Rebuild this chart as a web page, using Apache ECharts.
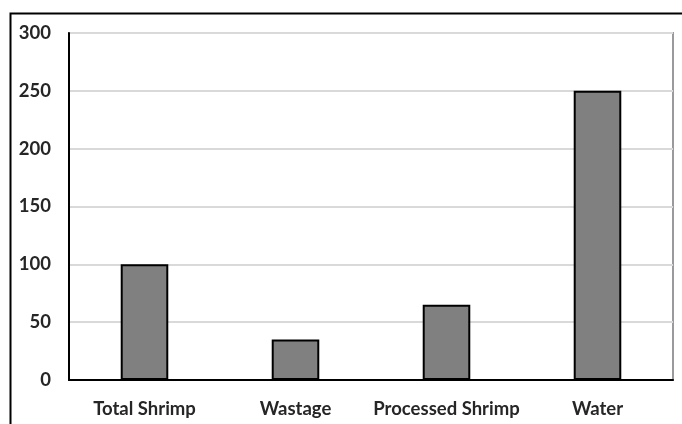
<!DOCTYPE html>
<html>
<head>
<meta charset="utf-8">
<script src="https://cdn.jsdelivr.net/npm/echarts@6/dist/echarts.min.js"></script>
<style>
  html, body { margin: 0; padding: 0; background: #fff; }
  #chart { width: 682px; height: 424px; }
</style>
</head>
<body>
<div id="chart"></div>
<script>
// Mass balance of shrimp processing
const categories = ['Total Shrimp', 'Wastage', 'Processed Shrimp', 'Water'];
const amounts = [100, 35, 65, 250];
const yTicks = { min: 0, max: 300, interval: 50 };

const labelFont = {
  fontFamily: 'Lato',
  fontWeight: 'bold',
  fontSize: 18.5,
  color: '#262626'
};

const chart = echarts.init(document.getElementById('chart'), null, { renderer: 'canvas' });
chart.setOption({
  animation: false,
  backgroundColor: '#ffffff',
  graphic: [{
    type: 'rect',
    left: 8, top: 11,
    shape: { width: 720, height: 460 },
    style: { fill: 'none', stroke: '#000', lineWidth: 2 },
    silent: true
  }],
  grid: {
    left: 69, right: 9, top: 33, bottom: 44,
    show: true,
    borderColor: '#9a9a9a',
    borderWidth: 2,
    backgroundColor: 'transparent'
  },
  xAxis: {
    type: 'category',
    data: categories,
    axisLine: { show: true, lineStyle: { color: '#000', width: 2 } },
    axisTick: { show: false },
    axisLabel: Object.assign({ margin: 20, interval: 0 }, labelFont)
  },
  yAxis: {
    type: 'value',
    min: yTicks.min, max: yTicks.max, interval: yTicks.interval,
    axisLine: { show: true, lineStyle: { color: '#000', width: 2 } },
    axisTick: { show: false },
    splitLine: { lineStyle: { color: '#d9d9d9', width: 2 } },
    axisLabel: Object.assign({ margin: 18 }, labelFont)
  },
  series: [{
    type: 'bar',
    data: amounts,
    barWidth: '31.5%',
    itemStyle: { color: '#808080', borderColor: '#000', borderWidth: 2 }
  }]
});
</script>
</body>
</html>
